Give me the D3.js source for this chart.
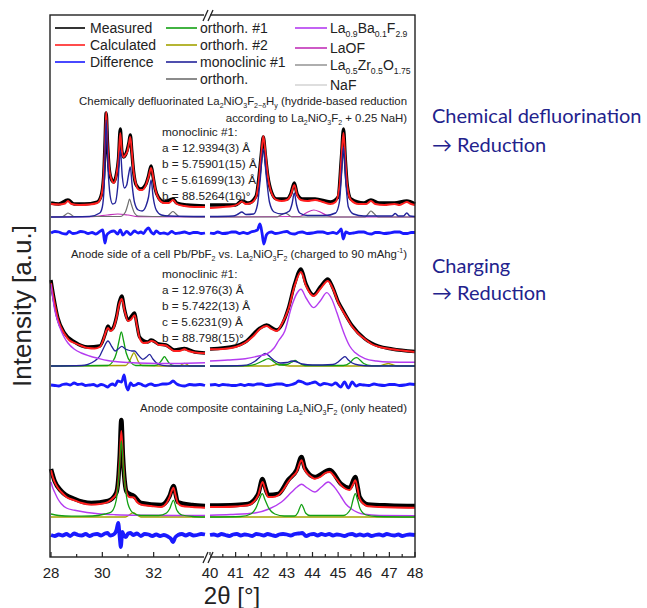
<!DOCTYPE html>
<html>
<head>
<meta charset="utf-8">
<script src="https://cdn.jsdelivr.net/npm/d3@7/dist/d3.min.js"></script>
<style>
  body { margin: 0; background: #fff; }
  svg { display: block; }
</style>
</head>
<body>
<div id="chart"></div>
<script>
// 647 x 608, stacked XRD refinements, broken 2theta axis (28-34 | 40-48)

// ---- data: [2theta, intensity a.u.] ----
// panel 1 : chemically defluorinated
var p1Meas = [[28,14],[28.3,13],[28.66,17],[28.9,13],[29.3,13],[29.8,15],[29.95,21],[30.05,40],[30.1,70],[30.15,104],[30.2,75],[30.26,50],[30.35,38],[30.45,35],[30.55,43],[30.63,58],[30.7,88],[30.76,66],[30.83,60],[30.9,62],[31.04,75],[31.09,82],[31.15,65],[31.22,45],[31.32,32],[31.5,28],[31.7,33],[31.8,41],[31.9,51],[31.98,40],[32.06,28],[32.2,19],[32.4,15],[32.75,18],[32.9,14],[33.3,12],[34,11],
  [40,12],[40.5,12],[41,12],[41.24,16],[41.5,14],[41.8,21],[41.92,42],[42.0,62],[42.08,80],[42.16,62],[42.25,42],[42.4,25],[42.6,18],[43.0,18],[43.15,23],[43.29,34],[43.4,23],[43.6,18],[44.1,18],[44.7,15],[45.0,20],[45.13,60],[45.21,88],[45.28,58],[45.36,31],[45.5,18],[46.0,14],[46.28,17],[46.6,14],[47.2,14],[47.68,16],[48,13]];
var p1Calc = [[28,13],[28.3,12.5],[28.55,13.5],[28.66,16],[28.8,13],[29.1,12],[29.5,12.5],[29.8,14],[29.95,20],[30.05,40],[30.1,70],[30.15,105],[30.2,75],[30.26,50],[30.35,38],[30.45,34],[30.55,42],[30.63,58],[30.7,84],[30.76,66],[30.83,60],[30.9,62],[30.98,66],[31.04,74],[31.09,80],[31.15,65],[31.22,45],[31.32,32],[31.45,27],[31.55,27],[31.7,32],[31.8,40],[31.9,49],[31.98,40],[32.06,28],[32.2,18],[32.4,14],[32.6,14],[32.75,17],[32.9,13],[33.2,11],[33.6,10],[34,10],
  [40,9],[40.5,10],[40.9,11],[41.1,13],[41.24,15.5],[41.4,13],[41.6,14],[41.8,20],[41.92,40],[42.0,62],[42.08,81],[42.16,65],[42.25,42],[42.4,24],[42.6,17],[42.8,16],[43.0,17],[43.15,22],[43.29,32],[43.4,22],[43.55,17],[43.8,16],[44.1,17],[44.4,15],[44.7,13],[44.9,15],[45.05,30],[45.13,60],[45.21,84],[45.28,58],[45.36,30],[45.5,17],[45.8,13],[46.1,13],[46.28,16],[46.45,13],[46.8,12],[47.2,13],[47.4,12],[47.68,15],[47.85,13],[48,12]];
var p1Diff = [[28,0],[28.15,1.5],[28.3,1],[28.45,-0.5],[28.6,-1],[28.7,1.5],[28.85,-0.5],[29,0],[29.15,1.5],[29.3,1],[29.45,-0.5],[29.6,0.5],[29.75,-1],[29.9,1.5],[30.02,3],[30.1,-10],[30.17,-2],[30.3,1],[30.45,2],[30.6,-1],[30.7,3],[30.8,-2],[30.95,1.5],[31.1,-1.5],[31.25,2],[31.4,0],[31.5,1],[31.6,-0.5],[31.7,3],[31.8,5],[31.9,1],[32.0,-1],[32.1,2],[32.25,-0.5],[32.4,0],[32.55,-1],[32.7,1.5],[32.85,-0.5],[33,0],[33.2,1],[33.4,-0.5],[33.55,0.5],[33.7,0.5],[33.85,-0.5],[34,0],
  [40,0],[40.15,-0.5],[40.3,1],[40.5,-0.5],[40.7,0],[40.85,1],[41,1],[41.15,-0.5],[41.3,0.5],[41.45,-0.5],[41.6,1],[41.85,3],[41.95,9],[42.03,0],[42.1,-11],[42.2,-2],[42.3,0.5],[42.4,1],[42.55,-0.5],[42.7,0],[42.85,1],[43,1.5],[43.15,-0.5],[43.3,-1],[43.45,0.5],[43.6,1],[43.8,-0.5],[44,0],[44.2,1],[44.4,1],[44.6,-0.5],[44.8,0.5],[44.95,-0.5],[45.05,2],[45.12,4],[45.2,-6],[45.3,1],[45.45,-0.5],[45.6,0],[45.8,1],[46,1],[46.15,-0.5],[46.3,-1],[46.45,0.5],[46.6,0.5],[46.8,-0.5],[47,0],[47.2,1],[47.4,1],[47.55,-0.5],[47.7,-0.5],[47.85,0.5],[48,0.5]];
var p1Mono = [[28,0],[29.5,0.5],[29.9,4],[30.0,10],[30.07,30],[30.15,97],[30.22,50],[30.3,22],[30.4,13],[30.5,14],[30.6,30],[30.7,67],[30.78,40],[30.86,29],[30.95,32],[31.02,42],[31.09,50],[31.16,32],[31.25,15],[31.4,7],[31.55,6],[31.7,11],[31.8,20],[31.9,37],[31.98,20],[32.1,7],[32.3,2],[32.6,1],[34,0.5],
  [40,0.5],[40.9,1],[41.1,3],[41.24,5],[41.4,2.5],[41.7,3],[41.85,12],[41.95,35],[42.08,68],[42.2,40],[42.32,15],[42.5,5],[42.8,3],[43.1,6],[43.2,13],[43.29,24],[43.38,12],[43.5,4],[43.8,1.5],[44.5,1.5],[44.9,4],[45.05,15],[45.13,42],[45.21,70],[45.3,35],[45.4,10],[45.6,3],[46,1],[47.1,1],[47.23,3.5],[47.35,1],[47.55,1],[47.68,4],[47.8,1],[48,0.5]];
var p1Ortho = [[28,0],[28.45,0.5],[28.6,3],[28.66,4],[28.75,3],[28.9,0.5],[30.7,0.5],[30.9,5],[31.0,13],[31.06,18],[31.14,12],[31.25,4],[31.4,1],[32.5,0.5],[32.65,3.5],[32.75,5.5],[32.85,3.5],[33,0.5],[34,0],
  [40,0],[42.6,0],[42.8,2.5],[42.93,4],[43.05,2.5],[43.2,0],[46.05,0],[46.2,4],[46.28,6],[46.38,4],[46.55,0],[48,0]];
var p1LaOF = [[28,0],[29.6,0.3],[30.2,2],[30.6,3],[31.0,2],[31.4,0.3],[34,0],
  [40,0],[43.5,0.5],[43.75,4],[44.05,7],[44.3,5],[44.6,1],[44.8,0],[48,0]];

// panel 2 : anode side, charged to 90 mAh/g
var p2Meas = [[28,86],[28.1,70],[28.27,48],[28.53,33],[28.92,24],[29.44,19],[29.9,20],[30.1,31],[30.22,40],[30.32,36],[30.42,38],[30.55,49],[30.66,64],[30.76,70],[30.87,56],[31.0,46],[31.26,53],[31.35,41],[31.45,29],[31.77,24],[31.9,26],[32.2,22],[32.48,21],[32.81,16],[33.2,17.5],[33.6,14],[34,13],
  [40,17],[41,20],[41.37,24],[41.95,38],[42.21,41],[42.6,36],[43.06,58],[43.3,82],[43.55,97],[43.75,82],[44.04,71],[44.3,79],[44.6,87],[44.8,78],[45.01,64],[45.14,58],[45.53,41],[46.05,27],[46.57,20],[47.1,17],[48,14.5]];
var p2Calc = [[28,83],[28.1,68],[28.2,55],[28.27,47],[28.4,38],[28.53,32],[28.7,26],[28.92,23],[29.2,20],[29.44,18],[29.7,17.5],[29.9,19],[30.05,27],[30.15,35],[30.22,38],[30.32,35],[30.42,37],[30.55,48],[30.66,62],[30.76,67],[30.87,55],[31.0,45],[31.1,46],[31.26,50.7],[31.35,40],[31.45,28],[31.6,23],[31.77,23.5],[31.9,25],[32.05,24],[32.2,21],[32.35,21],[32.48,20.5],[32.62,18],[32.81,15],[33.0,15],[33.2,16.7],[33.35,15],[33.6,13.5],[34,12.7],
  [40,16.7],[40.5,17],[41,19],[41.37,23.3],[41.7,30],[41.95,37],[42.21,40],[42.4,37],[42.6,35],[42.8,42],[43.06,56.7],[43.3,80],[43.55,94],[43.75,80],[44.04,70],[44.3,77],[44.6,85],[44.8,77],[45.01,63],[45.14,56.7],[45.3,50],[45.53,40],[45.8,32],[46.05,26.7],[46.3,22],[46.57,19.4],[46.8,18],[47.1,16.7],[47.5,15.5],[48,14]];
var p2Diff = [[28,0],[28.15,-0.5],[28.3,-1],[28.45,0.5],[28.6,1],[28.75,0],[28.9,2],[29.05,0.5],[29.2,1],[29.35,-0.5],[29.5,0],[29.65,0.5],[29.8,-1],[29.95,0.5],[30.05,0],[30.2,-2],[30.3,0],[30.4,1],[30.5,-0.5],[30.6,4],[30.75,3],[30.85,10],[30.92,0],[31.0,-5],[31.1,2],[31.2,-0.5],[31.3,0],[31.4,1.5],[31.5,1],[31.6,-0.5],[31.7,-1],[31.8,0.5],[31.9,1],[32.05,-0.5],[32.2,0],[32.35,1],[32.5,1],[32.65,2],[32.75,4],[32.9,1],[33.05,-0.5],[33.2,-1],[33.4,0.5],[33.6,0],[33.8,0.5],[34,-0.5],
  [40,0],[40.2,0.5],[40.35,-0.5],[40.5,0.5],[40.7,0],[40.85,-0.5],[41,-0.5],[41.2,0.5],[41.35,-0.5],[41.5,0.5],[41.7,0],[41.85,1],[42,1],[42.2,-0.5],[42.4,0],[42.6,1],[42.8,1],[43,-0.5],[43.2,0.5],[43.35,2],[43.45,4],[43.6,3],[43.8,1],[43.95,2],[44.1,3],[44.3,0],[44.45,1.5],[44.6,1],[44.75,0],[44.9,2],[45.1,-2],[45.25,3],[45.4,-3],[45.55,3],[45.7,-1],[45.85,0.5],[46,0],[46.2,-0.5],[46.4,1],[46.6,0],[46.8,-0.5],[47,0.5],[47.2,0.5],[47.4,-0.5],[47.6,0],[47.8,1],[48,0.5]];
var p2LaBaF = [[28,82],[28.07,68],[28.14,57],[28.27,44],[28.4,35],[28.53,28],[28.66,23],[28.9,17],[29.18,13],[29.5,10],[29.83,7.7],[30.2,5.5],[30.5,4.5],[31,3.5],[31.77,2.7],[32.5,2.5],[33.3,2.8],[34,3.3],
  [40,5],[40.7,6],[41.37,7.3],[41.9,10],[42.21,12],[42.5,18],[42.67,25],[42.92,35],[43.19,60],[43.4,73],[43.55,76.7],[43.75,68],[44.04,58.4],[44.3,65],[44.56,73.4],[44.75,67],[44.95,53.4],[45.1,42],[45.27,30],[45.45,20],[45.66,13.4],[46.05,7.4],[46.5,5],[46.96,4],[48,3.7]];
var p2Mono = [[28,0],[29.2,0.5],[29.44,1.7],[29.7,5],[29.9,10],[30.05,18],[30.22,25],[30.38,19],[30.5,15],[30.62,17],[30.76,19.7],[30.9,17],[31.0,16],[31.15,15],[31.26,15],[31.4,11],[31.58,6.7],[31.72,9],[31.84,11.7],[31.97,7],[32.1,3.3],[32.35,0.7],[32.7,0],[34,0],
  [40,0],[41.3,0.5],[41.6,2.5],[41.77,5],[41.95,9],[42.15,12.7],[42.35,9],[42.54,5],[42.75,3],[43.0,3.5],[43.2,5],[43.35,4.5],[43.6,2],[44,1],[44.8,1.5],[45.0,4],[45.15,7.5],[45.27,9.3],[45.4,6],[45.55,3],[45.8,1],[46.3,0],[48,0]];
var p2Ortho1 = [[28,0],[30.2,0.5],[30.42,5],[30.55,13],[30.65,25],[30.74,34],[30.83,25],[30.93,13],[31.12,3.3],[31.3,0.5],[32.05,0.5],[32.22,2.7],[32.32,6],[32.42,9.3],[32.52,6],[32.61,2.7],[32.8,0.3],[34,0],
  [40,0],[41.5,0.5],[41.8,2],[42.05,5],[42.28,7.4],[42.5,4],[42.7,1],[43.0,1.5],[43.2,4],[43.32,5.5],[43.45,3.5],[43.7,0.5],[45.2,0.5],[45.45,3],[45.6,7],[45.73,8.3],[45.85,6],[46.0,2.5],[46.3,0.3],[48,0]];
var p2Ortho2 = [[28,0],[30.9,0.5],[31.06,5],[31.15,10],[31.23,13.3],[31.31,10],[31.39,5],[31.55,0.5],[33.0,0],[33.1,1.5],[33.2,2.7],[33.3,1.5],[33.4,0],[34,0],
  [40,0],[42.3,0],[42.5,1],[42.67,2],[42.85,1],[43.1,0],[46.6,0],[46.8,1.5],[46.96,2.5],[47.1,1.5],[47.3,0],[48,0]];

// panel 3 : anode composite, only heated
var p3Meas = [[28,48],[28.14,36],[28.4,26],[28.92,18],[29.57,14],[30.22,16],[30.54,24],[30.62,37],[30.68,62],[30.74,97],[30.8,62],[30.87,36],[30.95,25],[31.23,21],[31.51,14],[32.29,12],[32.62,21],[32.77,31],[32.94,15],[33.5,12],[34,11],
  [40,11.5],[41,12],[41.48,13],[41.88,23],[42.05,38],[42.15,30],[42.27,22],[42.66,23],[43.05,37],[43.38,47],[43.57,60],[43.7,49],[44.09,40],[44.67,47],[45.12,33],[45.45,29],[45.67,40],[45.76,30],[45.84,20],[46.16,12.5],[47,11.5],[48,11]];
var p3Calc = [[28,46.7],[28.07,40],[28.14,35],[28.27,29],[28.4,25],[28.6,20],[28.92,16.7],[29.2,14],[29.57,12.4],[29.9,13],[30.22,15],[30.42,19],[30.54,23],[30.62,35],[30.68,60],[30.74,86],[30.8,60],[30.87,35],[30.95,24],[31.05,20],[31.23,19.5],[31.35,15],[31.51,12.4],[31.9,11],[32.29,10],[32.5,14],[32.62,20],[32.7,26],[32.77,29.3],[32.85,22],[32.94,14],[33.1,11],[33.5,10],[34,9.3],
  [40,10],[40.5,10],[41,10.5],[41.48,11.7],[41.7,15],[41.88,21.7],[42.05,35],[42.15,28],[42.27,20],[42.45,20],[42.66,21.7],[42.85,27],[43.05,35],[43.2,40],[43.38,45],[43.57,56.7],[43.7,47],[43.96,40],[44.09,38.3],[44.3,40],[44.5,44],[44.67,45],[44.9,39],[45.12,31.7],[45.3,28],[45.45,27],[45.57,32],[45.67,36.7],[45.76,28],[45.84,18.3],[46.0,13],[46.16,10.7],[46.6,10],[47.2,9.5],[48,9.3]];
var p3Diff = [[28,0],[28.15,-1],[28.3,0.5],[28.45,-0.5],[28.6,1],[28.75,-1],[28.9,1.5],[29.05,0],[29.2,-0.5],[29.35,1],[29.5,-1],[29.65,0.5],[29.8,1],[29.95,-0.5],[30.1,1.5],[30.2,2],[30.3,-0.5],[30.4,0],[30.5,2],[30.55,5],[30.62,12],[30.68,-3],[30.72,-12],[30.78,3],[30.85,-1],[30.92,-2],[31.0,1.5],[31.1,2],[31.2,0],[31.35,1.5],[31.5,-1],[31.65,1],[31.8,0.5],[31.95,-1],[32.1,0.5],[32.25,-1],[32.4,0],[32.55,-1.5],[32.68,-4],[32.75,-7],[32.85,-2],[32.95,0],[33.1,1],[33.25,-0.5],[33.4,1],[33.55,-0.5],[33.7,0],[33.85,1],[34,0.5],
  [40,0],[40.15,0.5],[40.3,-0.5],[40.45,1],[40.6,0],[40.75,-1],[40.9,0.5],[41.05,1],[41.2,-0.5],[41.35,0.5],[41.5,0],[41.65,-1],[41.8,1],[41.95,0.5],[42.1,-0.5],[42.25,1],[42.4,0],[42.55,-1],[42.7,0.5],[42.85,1],[43,0.5],[43.15,-0.5],[43.3,1],[43.45,1.5],[43.6,2],[43.75,-1],[43.9,0.5],[44.05,1],[44.2,-0.5],[44.35,1],[44.5,0],[44.65,1],[44.8,-0.5],[44.95,0.5],[45.1,0],[45.25,-1],[45.4,0.5],[45.55,1],[45.7,-0.5],[45.85,0.5],[46,-0.5],[46.15,0.5],[46.3,-1],[46.45,0],[46.6,0.5],[46.75,-0.5],[46.9,1],[47.05,0],[47.2,-0.5],[47.35,0.5],[47.5,-1],[47.65,0],[47.8,0.5],[48,0]];
var p3LaBaF = [[28,35],[28.07,29],[28.14,25],[28.27,18],[28.4,13.3],[28.6,9],[28.92,6.7],[29.4,4.5],[29.83,3.3],[30.5,2.3],[31.5,1.7],[33,1.5],[34,1.5],
  [40,1.7],[40.8,2.5],[41.75,4],[42.3,8],[42.79,15],[43.19,25],[43.4,30],[43.57,32.7],[43.8,29],[44.09,25],[44.35,30],[44.61,35],[44.85,30],[45.12,20],[45.3,13],[45.51,8.3],[46.03,2.7],[46.6,1.5],[48,1.2]];
var p3Ortho1 = [[28,3],[28.3,1.5],[28.8,0.8],[29.6,1],[30.1,3],[30.35,5],[30.54,16.7],[30.65,43],[30.74,76],[30.84,43],[31.0,13],[31.2,4],[31.5,1.5],[32.2,1.5],[32.5,4],[32.62,8],[32.77,16.7],[32.9,7],[33.1,2],[33.5,0.5],[34,0],
  [40,0],[41.2,0.5],[41.61,3.3],[41.81,10],[41.93,18],[42.04,23.3],[42.15,17],[42.27,10],[42.53,3],[42.9,1],[43.3,1],[43.42,4],[43.5,9],[43.57,12.7],[43.65,9],[43.73,4],[43.9,1.5],[45.2,1.5],[45.49,8],[45.58,17],[45.67,23.3],[45.76,17],[45.86,8],[46.1,2],[46.5,0.5],[48,0]];
var p3Ortho2 = [[28,0],[30.9,0],[31.05,2],[31.2,4.3],[31.35,2],[31.5,0],[34,0],[40,0],[48,0]];

// axis ticks
var tickMajor = [28, 30, 32, 40, 41, 42, 43, 44, 45, 46, 47, 48];
var tickMinor = [29, 31, 33, 40.5, 41.5, 42.5, 43.5, 44.5, 45.5, 46.5, 47.5];

// legend entries
var legendCol1 = ["Measured", "Calculated", "Difference"];
var legendCol2 = ["orthorh. #1", "orthorh. #2", "monoclinic #1", "orthorh."];
var legendCol3 = ["La_{0.9}Ba_{0.1}F_{2.9}", "LaOF", "La_{0.5}Zr_{0.5}O_{1.75}", "NaF"];

var col = {
    meas: "#000000", calc: "#ff1f1f", diff: "#1a1aff",
    o1: "#12a012", o2: "#a3a300", mono: "#23239a", ortho: "#6e6e6e",
    labaf: "#b43cf0", laof: "#c030b8", lazr: "#9a9a9a", naf: "#d6d6d6"
};

var W = 647, H = 608;
var svg = d3.select('#chart').append('svg')
    .attr('width', W)
    .attr('height', H);

var font = "'Liberation Sans', Arial, sans-serif";

// broken axis as a polylinear scale
var x = d3.scaleLinear().domain([28, 34, 40, 48]).range([51, 205, 210, 415]);
var y = d3.scaleLinear().domain([0, 542]).range([557, 15]);

// vertical offsets of each stacked trace
var base = { p1: 340, p2: 191, p3: 40 };
var dbase = { p1: 324, p2: 172, p3: 22 };

function drawTrace(data, off, color, w) {
    var line = d3.line()
        .x(d => x(d[0]))
        .y(d => y(d[1] + off))
        .curve(d3.curveMonotoneX);
    [data.filter(d => d[0] <= 34), data.filter(d => d[0] >= 40)].forEach(part => {
        svg.append('path')
            .attr('d', line(part))
            .attr('fill', 'none')
            .attr('stroke', color)
            .attr('stroke-width', w)
            .attr('stroke-linejoin', 'round');
    });
}

// panel 1
drawTrace(p1Meas, base.p1, col.meas, 3.4);
drawTrace(p1Calc, base.p1, col.calc, 1.9);
drawTrace(p1LaOF, base.p1, col.laof, 1.2);
drawTrace(p1Ortho, base.p1, col.ortho, 1.2);
drawTrace(p1Mono, base.p1, col.mono, 1.4);
drawTrace(p1Diff, dbase.p1, col.diff, 2.8);

// panel 2
drawTrace(p2Meas, base.p2, col.meas, 3.4);
drawTrace(p2Calc, base.p2, col.calc, 1.9);
drawTrace(p2Ortho2, base.p2, col.o2, 1.3);
drawTrace(p2Ortho1, base.p2, col.o1, 1.3);
drawTrace(p2Mono, base.p2, col.mono, 1.3);
drawTrace(p2LaBaF, base.p2, col.labaf, 1.4);
drawTrace(p2Diff, dbase.p2, col.diff, 2.8);

// panel 3
drawTrace(p3Meas, base.p3, col.meas, 4.5);
drawTrace(p3Calc, base.p3, col.calc, 1.9);
drawTrace(p3Ortho2, base.p3, col.o2, 1.3);
drawTrace(p3LaBaF, base.p3, col.labaf, 1.4);
drawTrace(p3Ortho1, base.p3, col.o1, 1.3);
drawTrace(p3Diff, dbase.p3, col.diff, 3.8);

// frame
svg.append('rect')
    .attr('x', 50).attr('y', 15)
    .attr('width', 365).attr('height', 542)
    .attr('fill', 'none')
    .attr('stroke', '#222')
    .attr('stroke-width', 1.4);

// ticks (inward)
var gTicks = svg.append('g').attr('stroke', '#222').attr('stroke-width', 1.2);
gTicks.selectAll('.maj').data(tickMajor).enter().append('line')
    .attr('x1', d => x(d)).attr('x2', d => x(d))
    .attr('y1', 557).attr('y2', 552);
gTicks.selectAll('.min').data(tickMinor).enter().append('line')
    .attr('x1', d => x(d)).attr('x2', d => x(d))
    .attr('y1', 557).attr('y2', 554);

svg.selectAll('.tlab').data(tickMajor).enter().append('text')
    .attr('x', d => x(d))
    .attr('y', 578)
    .attr('text-anchor', 'middle')
    .attr('font-family', font)
    .attr('font-size', 15)
    .attr('fill', '#222')
    .text(d => d);

// axis break marks
[[557, 552, 563], [15, 10, 21]].forEach(b => {
    svg.append('rect').attr('x', 204).attr('y', b[0] - 2).attr('width', 6).attr('height', 4).attr('fill', '#fff');
    [203, 208].forEach(x0 => {
        svg.append('line')
            .attr('x1', x0).attr('y1', b[2])
            .attr('x2', x0 + 5).attr('y2', b[1])
            .attr('stroke', '#222').attr('stroke-width', 1.3);
    });
});

// axis titles
svg.append('text')
    .attr('x', 232).attr('y', 604)
    .attr('text-anchor', 'middle')
    .attr('font-family', font)
    .attr('font-size', 24)
    .attr('fill', '#222')
    .text('2θ [°]');

svg.append('text')
    .attr('transform', 'translate(31,306) rotate(-90)')
    .attr('text-anchor', 'middle')
    .attr('font-family', font)
    .attr('font-size', 26)
    .attr('fill', '#222')
    .text('Intensity [a.u.]');

// text with _{sub} and ^{sup}
function richText(sel, str, size) {
    var re = /([_^])\{([^}]*)\}/g, last = 0, m, cur = 0;
    function part(t, target, fs) {
        sel.append('tspan').attr('dy', target - cur).attr('font-size', fs).text(t);
        cur = target;
    }
    while ((m = re.exec(str))) {
        if (m.index > last) part(str.slice(last, m.index), 0, size);
        part(m[2], m[1] === '_' ? size * 0.3 : -size * 0.4, size * 0.62);
        last = re.lastIndex;
    }
    if (last < str.length) part(str.slice(last), 0, size);
}

function label(xp, yp, str, size, anchor) {
    var t = svg.append('text')
        .attr('x', xp).attr('y', yp)
        .attr('text-anchor', anchor || 'start')
        .attr('font-family', font)
        .attr('font-size', size)
        .attr('fill', '#222');
    richText(t, str, size);
    return t;
}

// legend
var col1Colors = [col.meas, col.calc, col.diff];
var col2Colors = [col.o1, col.o2, col.mono, col.ortho];
var col3Colors = [col.labaf, col.laof, col.lazr, col.naf];
var rowsA = [28, 45, 62, 79];
var rowsC = [28, 48, 65, 85];

legendCol1.forEach((s, i) => {
    svg.append('line').attr('x1', 55).attr('x2', 85).attr('y1', rowsA[i]).attr('y2', rowsA[i])
        .attr('stroke', col1Colors[i]).attr('stroke-width', 1.6);
    label(90, rowsA[i] + 5, s, 14);
});
legendCol2.forEach((s, i) => {
    svg.append('line').attr('x1', 166).attr('x2', 197).attr('y1', rowsA[i]).attr('y2', rowsA[i])
        .attr('stroke', col2Colors[i]).attr('stroke-width', 1.6);
    label(200, rowsA[i] + 5, s, 14);
});
legendCol3.forEach((s, i) => {
    svg.append('line').attr('x1', 295).attr('x2', 327).attr('y1', rowsC[i]).attr('y2', rowsC[i])
        .attr('stroke', col3Colors[i]).attr('stroke-width', 1.6);
    label(330, rowsC[i] + 5, s, 14);
});

// panel annotations
var fsNote = 11.4;
label(407, 104.5, "Chemically defluorinated La_{2}NiO_{3}F_{2−δ}H_{y} (hydride-based reduction", fsNote, 'end');
label(407, 122, "according to La_{2}NiO_{3}F_{2} + 0.25 NaH)", fsNote, 'end');
var cell1 = ["monoclinic #1:", "a = 12.9394(3) Å", "b = 5.75901(15) Å", "c = 5.61699(13) Å", "b = 88.5264(16)°"];
cell1.forEach((s, i) => label(162, 136 + i * 16, s, 11.8));

label(407, 258, "Anode side of a cell Pb/PbF_{2} vs. La_{2}NiO_{3}F_{2} (charged to 90 mAhg^{-1})", fsNote, 'end');
var cell2 = ["monoclinic #1:", "a = 12.976(3) Å", "b = 5.7422(13) Å", "c = 5.6231(9) Å", "b = 88.798(15)°"];
cell2.forEach((s, i) => label(162, 278 + i * 16, s, 11.8));

label(407, 412, "Anode composite containing La_{2}NiO_{3}F_{2} (only heated)", fsNote, 'end');

// side notes
var noteFont = "Lato, 'Open Sans', sans-serif";
var notes = [[123, "Chemical defluorination"], [152, "→ Reduction"], [273, "Charging"], [300, "→ Reduction"]];
notes.forEach(n => {
    svg.append('text')
        .attr('x', 432).attr('y', n[0])
        .attr('font-family', noteFont)
        .attr('font-size', 20)
        .attr('fill', '#22228c')
        .text(n[1]);
});
</script>
</body>
</html>
